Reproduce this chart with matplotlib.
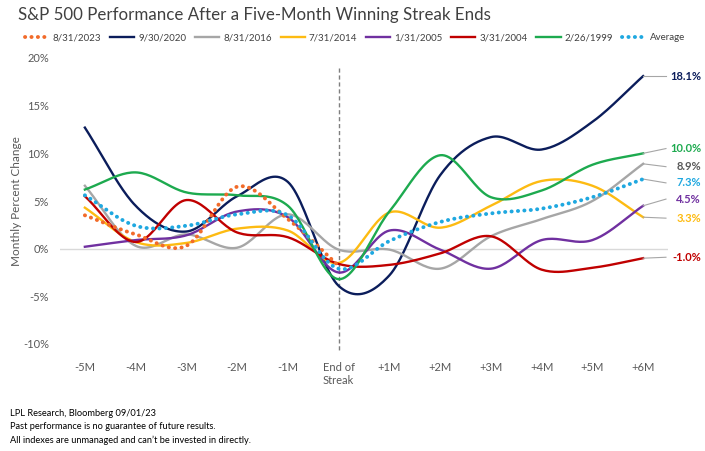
import numpy as np
import matplotlib
matplotlib.use("Agg")
import matplotlib.pyplot as plt

plt.rcParams["font.family"] = ["Lato", "DejaVu Sans"]

# months relative to the end of the streak
x_labels = ["-5M", "-4M", "-3M", "-2M", "-1M", "End of\nStreak",
            "+1M", "+2M", "+3M", "+4M", "+5M", "+6M"]
months = np.arange(-5, 7)

s2023 = [3.5, 1.5, 0.3, 6.5, 3.1, -1.8]
s2020 = [12.7, 4.5, 1.8, 5.5, 7.0, -3.9, -2.8, 7.7, 11.7, 10.4, 13.3, 18.1]
s2016 = [6.6, 0.3, 1.5, 0.1, 3.6, -0.1, -0.1, -2.1, 1.3, 3.1, 5.0, 8.9]
s2014 = [4.3, 0.7, 0.6, 2.1, 1.9, -1.5, 3.8, 2.2, 4.5, 7.1, 6.6, 3.3]
s2005 = [0.2, 0.9, 1.4, 3.9, 3.3, -2.5, 1.9, -0.1, -2.1, 0.9, 0.9, 4.5]
s2004 = [5.5, 0.7, 5.1, 1.7, 1.2, -1.6, -1.7, -0.5, 1.3, -2.2, -2.0, -1.0]
s1999 = [6.2, 8.0, 5.9, 5.6, 4.5, -3.2, 3.9, 9.8, 5.4, 6.1, 8.8, 10.0]
avg = [5.6, 2.4, 2.4, 3.6, 3.5, -2.1, 0.8, 2.8, 3.7, 4.2, 5.4, 7.3]

names = ["8/31/2023", "9/30/2020", "8/31/2016", "7/31/2014",
         "1/31/2005", "3/31/2004", "2/26/1999", "Average"]
colors = ["#F26B2A", "#0B1D5B", "#A6A6A6", "#FDBB12",
          "#7030A0", "#C00000", "#1DAA4F", "#1FA8E0"]
series = [s2023, s2020, s2016, s2014, s2005, s2004, s1999, avg]
dotted = [True, False, False, False, False, False, False, True]

# end labels: text, value position, colour
end_text = ["18.1%", "10.0%", "8.9%", "7.3%", "4.5%", "3.3%", "-1.0%"]
end_from = [18.1, 10.0, 8.9, 7.3, 4.5, 3.3, -1.0]
end_to = [18.1, 10.5, 8.6, 6.9, 5.2, 3.2, -0.9]
end_col = ["#0B1D5B", "#1DAA4F", "#595959", "#1FA8E0", "#7030A0", "#FDBB12", "#C00000"]


def smooth(xs, ys, n=24):
    # Catmull-Rom curve through the points (like Excel's smoothed line)
    xs = np.asarray(xs, float)
    ys = np.asarray(ys, float)
    px = np.concatenate([[2 * xs[0] - xs[1]], xs, [2 * xs[-1] - xs[-2]]])
    py = np.concatenate([[2 * ys[0] - ys[1]], ys, [2 * ys[-1] - ys[-2]]])
    out_x, out_y = [], []
    t = np.linspace(0, 1, n, endpoint=False)
    for i in range(1, len(px) - 2):
        for p, out in ((px, out_x), (py, out_y)):
            p0, p1, p2, p3 = p[i - 1], p[i], p[i + 1], p[i + 2]
            out.extend(0.5 * (2 * p1 + (-p0 + p2) * t
                              + (2 * p0 - 5 * p1 + 4 * p2 - p3) * t ** 2
                              + (-p0 + 3 * p1 - 3 * p2 + p3) * t ** 3))
    out_x.append(xs[-1])
    out_y.append(ys[-1])
    return out_x, out_y


fig = plt.figure(figsize=(7.05, 4.51), dpi=100)
ax = fig.add_axes([60 / 705, 107 / 451, 608 / 705, 286 / 451])

grey = "#595959"
ax.axhline(0, color="#D9D9D9", lw=1, zorder=1)
ax.plot([0, 0], [19.0, -10.7], ls=(0, (3, 2)), color="#7F7F7F", lw=1,
        clip_on=False, zorder=1)

handles = []
for s, name, c, d in zip(series, names, colors, dotted):
    sx, sy = smooth(months[:len(s)], s)
    if d:
        h, = ax.plot(sx, sy, color=c, lw=2.8, ls=(0, (0.05, 1.6)),
                     dash_capstyle="round", label=name, zorder=3)
    else:
        h, = ax.plot(sx, sy, color=c, lw=1.7, label=name, zorder=2)
    handles.append(h)

for txt, y0, y1, c in zip(end_text, end_from, end_to, end_col):
    ax.plot([6, 6.45], [y0, y1], color="#A6A6A6", lw=0.8, clip_on=False)
    ax.text(7.14, y1, txt, color=c, fontsize=8, fontweight="bold",
            ha="right", va="center", clip_on=False)

ax.set_xlim(-5.49, 6.49)
ax.set_ylim(-10, 20)
ax.set_xticks(months)
ax.set_xticklabels(x_labels, fontsize=8, color=grey, va="top")
ax.set_yticks(np.arange(-10, 21, 5))
ax.set_yticklabels([f"{v}%" for v in range(-10, 21, 5)], fontsize=8, color=grey)
ax.tick_params(length=0)
ax.tick_params(axis="x", pad=13)
ax.tick_params(axis="y", pad=8)
for sp in ax.spines.values():
    sp.set_visible(False)
ax.set_ylabel("Monthly Percent Change", fontsize=8.5, color=grey)
ax.yaxis.set_label_coords(-38 / 608, 0.5)

fig.legend(handles=handles, loc="center", bbox_to_anchor=(355 / 705, 1 - 38 / 451),
           ncol=8, frameon=False, fontsize=7, handlelength=2.5,
           handletextpad=0.4, columnspacing=0.9, labelcolor="#404040")

fig.text(18 / 705, 1 - 15 / 451, "S&P 500 Performance After a Five-Month Winning Streak Ends",
         fontsize=12.2, color="#404040", va="center")

foot = ["LPL Research, Bloomberg 09/01/23",
        "Past performance is no guarantee of future results.",
        "All indexes are unmanaged and can\u2019t be invested in directly."]
for i, line in enumerate(foot):
    fig.text(10 / 705, 1 - (413 + 13.5 * i) / 451, line, fontsize=6.7,
             color="black", va="center")

fig.savefig("out.png", dpi=100)
